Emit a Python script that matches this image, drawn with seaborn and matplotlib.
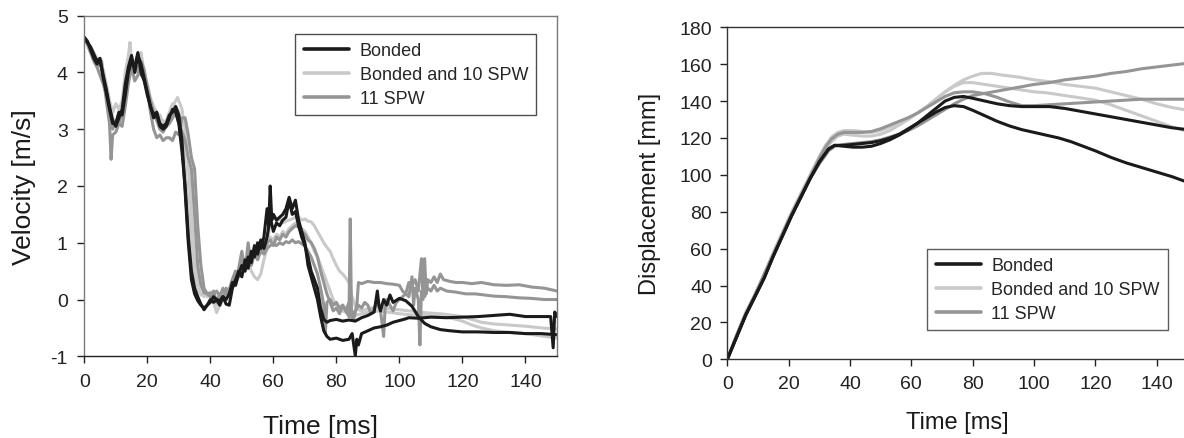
import matplotlib
matplotlib.use("Agg")
import matplotlib.pyplot as plt
import seaborn as sns
import pandas as pd
from matplotlib.lines import Line2D

# ---------------- data ----------------
series_labels = ["Bonded", "Bonded and 10 SPW", "11 SPW"]
series_colors = ["#1a1a1a", "#c9c9c9", "#959595"]

# Velocity [m/s] vs time [ms]  (two traces per configuration)
vel_bonded_1 = [(0,4.62),(1,4.55),(2,4.4),(3,4.25),(4,4.15),(5,4.2),(6,3.95),(7,3.7),(8,3.4),(9,3.15),(10,3.05),(11,3.2),(12,3.35),(13,3.8),(14,4.1),(15,4.3),(16,4.0),(17,4.3),(18,4.15),(19,3.9),(20,3.65),(21,3.4),(22,3.25),(23,3.3),(24,3.1),(25,3.05),(26,3.1),(27,3.25),(28,3.3),(29,3.4),(30,3.25),(31,2.8),(32,1.9),(33,1.0),(34,0.35),(35,0.1),(36,-0.02),(37,-0.1),(38,-0.15),(39,-0.1),(40,0.0),(41,-0.05),(42,0.0),(43,-0.02),(44,0.05),(45,-0.08),(46,-0.1),(47,0.2),(48,0.35),(49,0.5),(50,0.4),(51,0.7),(52,0.55),(53,0.85),(54,0.75),(55,1.0),(56,0.9),(57,1.1),(58,1.6),(58.5,1.3),(59,2.0),(59.5,1.4),(60,1.5),(61,1.4),(62,1.45),(63,1.5),(64,1.6),(65,1.8),(66,1.6),(67,1.75),(68,1.4),(69,1.2),(70,1.0),(71,0.6),(72,0.4),(73,0.2),(74,0.0),(75,-0.3),(76,-0.55),(77,-0.65),(78,-0.7),(80,-0.68),(82,-0.72),(84,-0.7),(85,-0.6),(86,-0.99),(86.5,-0.7),(87,-0.8),(88,-0.6),(90,-0.55),(92,-0.5),(94,-0.48),(96,-0.45),(98,-0.4),(100,-0.37),(102,-0.34),(103,-0.32),(106,-0.33),(110,-0.31),(115,-0.32),(120,-0.31),(125,-0.3),(130,-0.28),(135,-0.26),(140,-0.3),(145,-0.3),(148,-0.3),(148.8,-0.85),(149.3,-0.22),(150,-0.3)]
vel_bonded_2 = [(0,4.6),(2,4.45),(4,4.2),(5,4.25),(6,3.9),(8,3.35),(9,3.1),(10,3.1),(11,3.3),(12,3.25),(13,3.6),(14,4.0),(15,4.2),(16,4.1),(17,4.35),(18,4.0),(19,3.85),(20,3.6),(21,3.4),(22,3.2),(23,3.25),(24,3.05),(25,3.0),(26,3.05),(27,3.2),(28,3.35),(29,3.3),(30,3.1),(31,2.6),(32,2.0),(33,1.1),(34,0.5),(35,0.2),(36,0.05),(37,-0.08),(38,-0.18),(39,-0.1),(40,-0.05),(41,0.05),(42,0.0),(43,-0.1),(44,0.05),(45,0.0),(46,0.1),(47,0.3),(48,0.25),(49,0.45),(50,0.6),(51,0.5),(52,0.75),(53,0.65),(54,0.95),(55,0.8),(56,1.05),(57,0.9),(58,1.1),(59,1.45),(60,1.2),(61,1.35),(62,1.3),(63,1.4),(64,1.45),(65,1.75),(66,1.5),(67,1.55),(68,1.3),(69,1.1),(70,0.95),(71,0.75),(72,0.5),(73,0.35),(74,0.2),(75,-0.15),(76,-0.35),(77,-0.4),(78,-0.37),(80,-0.35),(82,-0.38),(84,-0.36),(86,-0.38),(88,-0.32),(90,-0.28),(92,-0.22),(93,0.15),(93.5,-0.1),(94,-0.2),(95,0.0),(96,-0.1),(97,0.08),(98,-0.05),(100,0.02),(102,-0.02),(104,-0.12),(106,-0.3),(108,-0.42),(110,-0.48),(113,-0.53),(116,-0.55),(120,-0.57),(125,-0.57),(130,-0.58),(135,-0.58),(140,-0.6),(145,-0.6),(150,-0.62)]
vel_b10_1 = [(0,4.62),(1,4.55),(2,4.4),(3,4.3),(4,4.2),(5,4.15),(6,4.05),(7,3.8),(8,3.5),(9,3.3),(10,3.45),(11,3.35),(12,3.5),(13,4.0),(14,4.3),(14.5,4.53),(15,4.2),(16,4.1),(17,4.2),(18,4.35),(19,4.0),(20,3.8),(21,3.55),(22,3.4),(23,3.3),(24,3.2),(25,3.15),(26,3.1),(27,3.25),(28,3.4),(29,3.5),(29.6,3.56),(30,3.5),(31,3.35),(32,3.0),(33,2.4),(34,1.5),(35,0.7),(36,0.25),(37,0.08),(38,0.1),(39,0.05),(40,0.08),(41,-0.05),(42,-0.23),(43,-0.1),(44,0.0),(45,0.1),(46,0.05),(47,0.2),(48,0.3),(49,0.45),(50,0.6),(51,0.55),(52,0.65),(53,0.5),(54,0.4),(55,0.35),(56,0.45),(57,0.7),(58,0.9),(59,1.4),(60,1.5),(61,1.38),(62,1.42),(63,1.35),(64,1.38),(65,1.4),(66,1.42),(67,1.45),(68,1.45),(69,1.4),(70,1.42),(71,1.38),(72,1.37),(73,1.3),(74,1.2),(75,1.1),(76,1.0),(77,0.92),(78,0.85),(79,0.72),(80,0.6),(81,0.5),(82,0.45),(83,0.38),(84,0.3),(85,0.05),(86,-0.12),(87,-0.18),(88,-0.2),(90,-0.16),(92,-0.14),(95,-0.15),(98,-0.17),(100,-0.18),(103,-0.2),(106,-0.22),(110,-0.24),(113,-0.25),(116,-0.27),(120,-0.3),(123,-0.35),(126,-0.4),(130,-0.43),(135,-0.45),(140,-0.47),(145,-0.5),(150,-0.52)]
vel_b10_2 = [(0,4.6),(2,4.45),(4,4.25),(6,4.0),(7,3.7),(8,3.45),(9,3.2),(10,3.1),(11,3.3),(12,3.45),(13,3.7),(14,4.1),(15,4.25),(16,4.05),(17,4.3),(18,4.1),(19,3.9),(20,3.7),(21,3.45),(22,3.3),(23,3.2),(24,3.25),(25,3.1),(26,3.15),(27,3.3),(28,3.45),(29,3.4),(30,3.3),(31,3.0),(32,2.4),(33,1.6),(34,0.9),(35,0.35),(36,0.15),(37,0.1),(38,0.05),(39,0.12),(40,0.1),(41,0.0),(42,-0.1),(43,-0.05),(44,0.1),(45,0.05),(46,0.2),(47,0.35),(48,0.5),(49,0.45),(50,0.7),(51,0.6),(52,0.8),(53,0.7),(54,0.85),(55,0.9),(56,0.95),(57,1.05),(58,1.0),(59,1.1),(60,1.05),(61,1.15),(62,1.1),(63,1.2),(64,1.15),(65,1.25),(66,1.3),(67,1.35),(68,1.3),(69,1.25),(70,1.2),(71,1.1),(72,1.0),(73,0.85),(74,0.75),(75,0.6),(76,0.45),(77,0.3),(78,0.15),(79,0.0),(80,-0.1),(82,-0.2),(84,-0.25),(86,-0.28),(88,-0.25),(90,-0.22),(93,-0.2),(96,-0.22),(100,-0.25),(104,-0.27),(108,-0.28),(112,-0.3),(116,-0.32),(120,-0.38),(123,-0.45),(126,-0.5),(130,-0.55),(135,-0.58),(140,-0.6),(145,-0.64),(150,-0.68)]
vel_spw_1 = [(0,4.62),(1,4.5),(2,4.35),(3,4.2),(4,4.1),(5,4.15),(5.5,4.2),(6,3.95),(7,3.5),(8,3.1),(8.5,2.47),(9,2.9),(10,2.95),(11,3.1),(12,3.05),(13,3.4),(14,3.8),(15,4.1),(16,3.85),(17,3.95),(18,4.2),(19,4.05),(20,3.7),(21,3.3),(22,3.0),(23,2.85),(24,2.9),(25,2.8),(26,2.85),(27,2.85),(28,2.8),(29,2.95),(30,2.9),(31,3.2),(32,3.2),(33,2.9),(34,2.5),(35,2.3),(36,1.3),(37,0.6),(38,0.2),(39,0.1),(40,0.12),(41,0.1),(42,0.15),(43,0.05),(44,0.2),(45,0.1),(46,0.15),(47,0.35),(48,0.3),(49,0.55),(50,0.85),(51,0.5),(52,1.0),(53,0.6),(54,0.8),(55,0.7),(56,0.85),(57,0.8),(58,0.9),(59,0.95),(60,0.98),(61,0.95),(62,1.0),(63,0.97),(64,1.02),(65,1.0),(66,1.05),(67,1.0),(68,1.02),(69,0.98),(70,0.95),(71,0.85),(72,0.75),(73,0.6),(74,0.45),(75,0.2),(76,-0.1),(76.5,-0.6),(77,-0.05),(78,0.0),(79,-0.1),(80,-0.05),(81,-0.15),(82,-0.1),(83,-0.2),(84,-0.3),(84.4,1.42),(84.8,-0.3),(85.5,-0.35),(86.5,-0.1),(87,0.3),(88,0.28),(90,0.32),(92,0.3),(94,0.3),(96,0.28),(98,0.27),(100,0.25),(101,0.15),(102,0.1),(103,0.3),(104,0.25),(105,0.35),(106,0.15),(107,0.72),(107.5,0.0),(108,0.72),(108.5,0.1),(109,0.35),(110,0.3),(111,0.4),(112,0.3),(113,0.45),(114,0.35),(116,0.32),(118,0.3),(120,0.3),(123,0.28),(126,0.3),(130,0.26),(134,0.25),(138,0.26),(142,0.22),(146,0.2),(150,0.15)]
vel_spw_2 = [(0,4.6),(1,4.5),(2,4.35),(3,4.25),(4,4.1),(5,3.95),(6,3.8),(7,3.6),(8,3.3),(9,3.0),(10,3.15),(11,3.1),(12,3.3),(13,3.6),(14,4.0),(15,4.2),(16,4.0),(17,4.1),(18,3.95),(19,4.0),(20,3.75),(21,3.5),(22,3.3),(23,3.15),(24,3.0),(25,2.95),(26,3.05),(27,3.1),(28,3.2),(29,3.3),(30,3.1),(31,2.95),(32,2.8),(33,2.5),(34,2.3),(35,1.5),(36,0.6),(37,0.25),(38,0.12),(39,0.1),(40,0.05),(41,0.15),(42,-0.05),(43,0.1),(44,0.0),(45,0.2),(46,0.1),(47,0.35),(48,0.5),(49,0.4),(50,0.7),(51,0.55),(52,0.8),(53,0.65),(54,0.9),(55,0.75),(56,0.95),(57,0.85),(58,1.0),(59,1.05),(60,0.95),(61,1.1),(62,1.05),(63,1.15),(64,1.1),(65,1.2),(66,1.25),(67,1.3),(68,1.28),(69,1.2),(70,1.15),(71,1.05),(72,1.0),(73,0.9),(74,0.75),(75,0.5),(76,0.3),(77,0.1),(78,-0.05),(79,-0.2),(80,-0.15),(81,-0.25),(82,-0.1),(83,-0.2),(84,-0.05),(85,-0.25),(86,-0.2),(87,-0.1),(88,-0.15),(89,-0.05),(90,-0.1),(91,-0.25),(92,-0.15),(93,-0.05),(94,-0.2),(95,-0.65),(95.5,-0.1),(96,0.0),(97,-0.1),(98,-0.2),(99,-0.05),(100,0.0),(101,0.05),(102,0.1),(103,0.05),(104,0.4),(104.5,-0.1),(105,0.2),(106,0.0),(106.5,-0.8),(107,0.15),(108,0.05),(109,0.2),(110,0.15),(111,0.25),(112,0.15),(113,0.2),(115,0.15),(118,0.13),(121,0.1),(124,0.1),(127,0.08),(130,0.06),(134,0.05),(138,0.03),(142,0.02),(146,0.0),(150,0.0)]

# Displacement [mm] vs time [ms]
disp_bonded_1 = [(0,0),(3,12),(6,24),(9,34),(12,44),(15,56),(18,67),(21,78),(24,88),(27,98),(30,107),(33,114),(35,116),(38,115.5),(41,115),(44,115),(47,115.5),(50,117),(53,119),(56,121.5),(59,124.5),(62,128),(65,132),(68,136),(71,140),(74,142),(77,142.5),(80,141.5),(84,140),(88,138.5),(92,137.5),(96,137),(100,137),(105,137),(110,136),(115,134.5),(120,133),(125,131.5),(130,130),(135,128.5),(140,127),(145,125.5),(150,124.5)]
disp_bonded_2 = [(0,0),(3,12),(6,24),(9,34),(12,44),(15,56),(18,67),(21,78),(24,88),(27,98),(30,107),(33,114),(35,116),(38,116),(41,116.5),(44,117),(47,117.5),(50,118.5),(53,120),(56,122),(59,125),(62,128),(65,131),(68,134),(71,136.5),(74,137.5),(77,137),(80,135),(84,132),(88,129),(92,126.5),(96,124.5),(100,123),(104,121.5),(108,120),(112,118),(116,115.5),(120,113),(125,109.5),(130,106.5),(135,104),(140,101.5),(145,99),(150,96)]
disp_b10_1 = [(0,0),(3,13),(6,25),(9,35),(12,46),(15,58),(18,69),(21,80),(24,90),(27,100),(30,110),(32,116),(34,120.5),(36,123),(38,124),(41,124),(44,123.5),(47,123),(50,124),(53,126),(56,128),(59,130.5),(62,133.5),(65,137),(68,141),(71,145),(74,148.5),(77,151.5),(80,153.5),(83,155),(86,155),(90,154),(95,153),(100,151.5),(105,150.5),(110,149),(115,148),(120,147),(125,145),(130,143),(135,141),(140,138.5),(145,136.5),(150,135)]
disp_b10_2 = [(0,0),(3,13),(6,25),(9,35),(12,46),(15,57),(18,68),(21,79),(24,89),(27,99),(30,109),(32,114),(34,118),(36,121),(38,122),(41,121.5),(44,121),(47,121),(50,122),(53,124),(56,127),(59,130),(62,133.5),(65,137),(68,141),(71,145),(74,148),(77,150),(80,150),(84,149),(88,148),(92,147),(96,146),(100,145),(104,144.5),(108,143.5),(112,142.5),(116,141.5),(120,140.5),(125,138),(130,135),(135,132),(140,129),(145,126),(150,123.5)]
disp_spw_1 = [(0,0),(3,12),(6,24),(9,34),(12,45),(15,56),(18,67),(21,78),(24,88),(27,98),(30,106),(33,113),(35,115.5),(38,116.5),(41,117),(44,117.5),(47,118),(50,119),(53,120.5),(56,122),(59,124),(62,126.5),(65,129.5),(68,132.5),(71,135.5),(74,138.5),(77,141),(80,143),(85,144.5),(90,146),(95,147.5),(100,149),(105,150),(110,151.5),(115,152.5),(120,153.5),(125,155),(130,156),(135,157.5),(140,158.5),(145,159.5),(150,160.5)]
disp_spw_2 = [(0,0),(3,13),(6,25),(9,35),(12,46),(15,57),(18,68),(21,79),(24,89),(27,99),(30,109),(32,115),(34,119.5),(36,122),(38,123),(41,123),(44,123),(47,123.5),(50,125),(53,127),(56,129),(59,131),(62,133.5),(65,136.5),(68,139.5),(71,142.5),(74,144.5),(77,145),(80,145),(84,144),(88,142),(92,139.5),(96,137.5),(100,137.5),(105,138),(110,138.5),(115,139),(120,139.5),(125,140),(130,140.5),(135,141),(140,141),(145,141),(150,141)]

x_ticks = [0, 20, 40, 60, 80, 100, 120, 140]
vel_ticks = [-1, 0, 1, 2, 3, 4, 5]
disp_ticks = [0, 20, 40, 60, 80, 100, 120, 140, 160, 180]


def to_frame(groups):
    rows = []
    for label, runs in groups:
        for k, run in enumerate(runs):
            for t, v in run:
                rows.append({"Time": t, "Value": v, "Series": label, "Run": f"{label}-{k}"})
    return pd.DataFrame(rows)


df_vel = to_frame([(series_labels[0], [vel_bonded_1, vel_bonded_2]),
                   (series_labels[1], [vel_b10_1, vel_b10_2]),
                   (series_labels[2], [vel_spw_1, vel_spw_2])])
df_disp = to_frame([(series_labels[0], [disp_bonded_1, disp_bonded_2]),
                    (series_labels[1], [disp_b10_1, disp_b10_2]),
                    (series_labels[2], [disp_spw_1, disp_spw_2])])

# ---------------- style ----------------
sns.set_style("ticks")
plt.rcParams["font.family"] = ["Liberation Sans", "DejaVu Sans"]
plt.rcParams["axes.unicode_minus"] = False

palette = dict(zip(series_labels, series_colors))
draw_order = [series_labels[1], series_labels[2], series_labels[0]]

fig = plt.figure(figsize=(11.84, 4.39), dpi=100)
ax1 = fig.add_axes([0.0712, 0.1861, 0.3992, 0.7759])
ax2 = fig.add_axes([0.6143, 0.1793, 0.3886, 0.7563])

for ax, df in ((ax1, df_vel), (ax2, df_disp)):
    for lab in draw_order:
        sub = df[df["Series"] == lab]
        sns.lineplot(data=sub, x="Time", y="Value", hue="Series", units="Run",
                     estimator=None, palette=palette, linewidth=2.2, sort=False,
                     ax=ax, legend=False)

handles = [Line2D([], [], color=c, lw=2.6) for c in series_colors]
leg_kw = dict(fontsize=13, frameon=True, fancybox=False, handlelength=2.5,
              handletextpad=0.6, borderpad=0.45, labelspacing=0.38,
              borderaxespad=0)

# --- left panel ---
ax1.set_xlim(0, 150)
ax1.set_ylim(-1, 5)
ax1.set_xticks(x_ticks)
ax1.set_yticks(vel_ticks)
ax1.set_xlabel("Time [ms]", fontsize=19, color="#1a1a1a")
ax1.set_ylabel("Velocity [m/s]", fontsize=19, color="#1a1a1a")
ax1.xaxis.set_label_coords(0.5, -0.168)
ax1.yaxis.set_label_coords(-0.103, 0.5)
ax1.tick_params(axis="both", direction="out", length=5, width=1, labelsize=14,
                colors="#222222", pad=7)
for s in ("top", "right", "left"):
    ax1.spines[s].set_color("#7a7a7a")
    ax1.spines[s].set_linewidth(1.0)
ax1.spines["bottom"].set_color("#222222")
ax1.spines["bottom"].set_linewidth(1.0)
leg1 = ax1.legend(handles, series_labels, loc="upper right",
                  bbox_to_anchor=(0.956, 0.946), edgecolor="#222222", **leg_kw)
leg1.get_frame().set_linewidth(1.0)

# --- right panel ---
ax2.set_xlim(0, 150)
ax2.set_ylim(0, 180)
ax2.set_xticks(x_ticks)
ax2.set_yticks(disp_ticks)
ax2.set_xlabel("Time [ms]", fontsize=17, color="#1a1a1a")
ax2.set_ylabel("Displacement [mm]", fontsize=17, color="#1a1a1a")
ax2.xaxis.set_label_coords(0.5, -0.155)
ax2.yaxis.set_label_coords(-0.145, 0.5)
ax2.tick_params(axis="both", direction="out", length=5, width=1, labelsize=14,
                colors="#222222", pad=6)
for s in ("top", "right", "left", "bottom"):
    ax2.spines[s].set_color("#333333")
    ax2.spines[s].set_linewidth(1.0)
leg2 = ax2.legend(handles, series_labels, loc="lower right",
                  bbox_to_anchor=(0.958, 0.088), edgecolor="#333333", **leg_kw)
leg2.get_frame().set_linewidth(1.0)

fig.savefig("out.png", dpi=100)
